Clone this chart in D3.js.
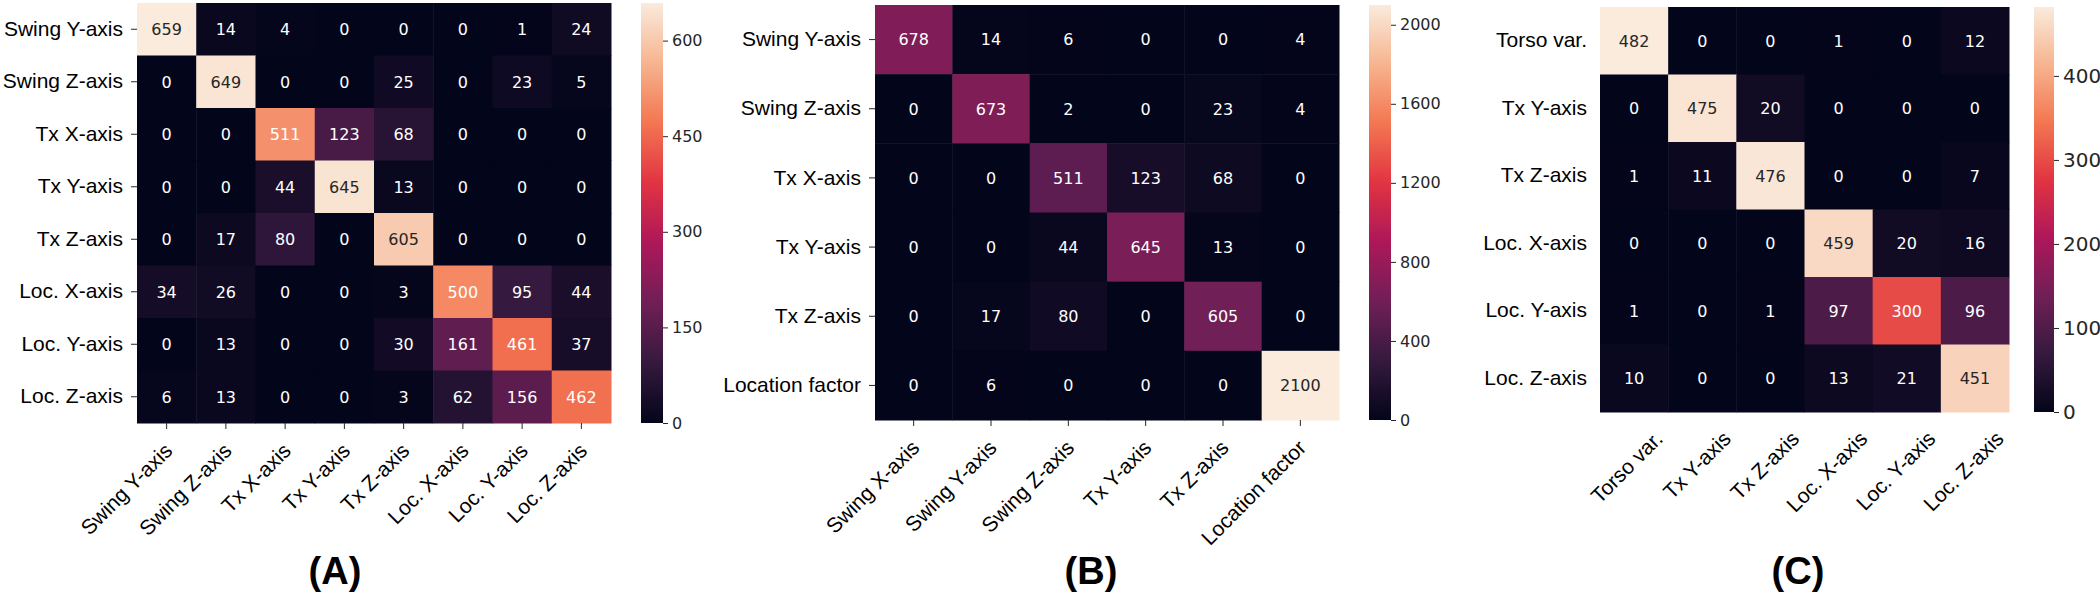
<!DOCTYPE html>
<html>
<head>
<meta charset="utf-8">
<script src="https://cdn.jsdelivr.net/npm/d3@7"></script>
<style>
  html, body { margin: 0; padding: 0; background: #ffffff; }
  svg { display: block; }
</style>
</head>
<body>
<svg id="chart" width="2100" height="594"></svg>
<script>
// ---------------- DATA ----------------
const labelsA = ["Swing Y-axis", "Swing Z-axis", "Tx X-axis", "Tx Y-axis", "Tx Z-axis", "Loc. X-axis", "Loc. Y-axis", "Loc. Z-axis"];
const valuesA = [
  [659, 14, 4, 0, 0, 0, 1, 24],
  [0, 649, 0, 0, 25, 0, 23, 5],
  [0, 0, 511, 123, 68, 0, 0, 0],
  [0, 0, 44, 645, 13, 0, 0, 0],
  [0, 17, 80, 0, 605, 0, 0, 0],
  [34, 26, 0, 0, 3, 500, 95, 44],
  [0, 13, 0, 0, 30, 161, 461, 37],
  [6, 13, 0, 0, 3, 62, 156, 462]
];
const ticksA = [0, 150, 300, 450, 600];

const rowsB = ["Swing Y-axis", "Swing Z-axis", "Tx X-axis", "Tx Y-axis", "Tx Z-axis", "Location factor"];
const colsB = ["Swing X-axis", "Swing Y-axis", "Swing Z-axis", "Tx Y-axis", "Tx Z-axis", "Location factor"];
const valuesB = [
  [678, 14, 6, 0, 0, 4],
  [0, 673, 2, 0, 23, 4],
  [0, 0, 511, 123, 68, 0],
  [0, 0, 44, 645, 13, 0],
  [0, 17, 80, 0, 605, 0],
  [0, 6, 0, 0, 0, 2100]
];
const ticksB = [0, 400, 800, 1200, 1600, 2000];

const labelsC = ["Torso var.", "Tx Y-axis", "Tx Z-axis", "Loc. X-axis", "Loc. Y-axis", "Loc. Z-axis"];
const valuesC = [
  [482, 0, 0, 1, 0, 12],
  [0, 475, 20, 0, 0, 0],
  [1, 11, 476, 0, 0, 7],
  [0, 0, 0, 459, 20, 16],
  [1, 0, 1, 97, 300, 96],
  [10, 0, 0, 13, 21, 451]
];
const ticksC = [0, 100, 200, 300, 400];

const panelLetters = ["(A)", "(B)", "(C)"];

// seaborn "rocket" colormap (approximate stops)
const rocketPos = [0, 0.143, 0.286, 0.429, 0.571, 0.714, 0.857, 1];
const rocketCol = ["#03051a", "#35193e", "#701f57", "#ad1759", "#e13342", "#f37651", "#f6b48f", "#faebdd"];

// ---------------- HELPERS ----------------
const rocket = d3.scaleLinear().domain(rocketPos).range(rocketCol).interpolate(d3.interpolateRgb).clamp(true);

function relLum(c) {
  const rgb = d3.rgb(c);
  const f = v => { v = v / 255; return v <= 0.03928 ? v / 12.92 : Math.pow((v + 0.055) / 1.055, 2.4); };
  return 0.2126 * f(rgb.r) + 0.7152 * f(rgb.g) + 0.0722 * f(rgb.b);
}

const svg = d3.select("#chart");
const defs = svg.append("defs");
const LABEL_FONT = "'Liberation Sans', Arial, Helvetica, sans-serif";
const NUM_FONT = "'DejaVu Sans', sans-serif";

function drawPanel(cfg) {
  const { id, rows, cols, values, ticks, vmax, x0, x1, y0, y1, cb, showTicks, cbFont, letter, letterX, xlabShift } = cfg;
  const g = svg.append("g").attr("class", "panel-" + id);

  const x = d3.scaleBand().domain(d3.range(cols.length)).range([x0, x1]).padding(0);
  const y = d3.scaleBand().domain(d3.range(rows.length)).range([y0, y1]).padding(0);
  const norm = d3.scaleLinear().domain([0, vmax]).range([0, 1]);

  const cells = [];
  values.forEach((row, i) => row.forEach((v, j) => cells.push({ i, j, v })));

  g.selectAll("rect.cell").data(cells).enter().append("rect")
    .attr("class", "cell")
    .attr("x", d => x(d.j))
    .attr("y", d => y(d.i))
    .attr("width", x.bandwidth() + 0.5)
    .attr("height", y.bandwidth() + 0.5)
    .attr("fill", d => rocket(norm(d.v)));

  g.selectAll("text.annot").data(cells).enter().append("text")
    .attr("class", "annot")
    .attr("x", d => x(d.j) + x.bandwidth() / 2)
    .attr("y", d => y(d.i) + y.bandwidth() / 2)
    .attr("dy", "0.36em")
    .attr("text-anchor", "middle")
    .attr("font-family", NUM_FONT)
    .attr("font-size", 16)
    .attr("fill", d => relLum(rocket(norm(d.v))) > 0.408 ? "#262626" : "#ffffff")
    .text(d => d.v);

  // Y axis (row labels)
  const tickLen = showTicks ? 6 : 0;
  const yAxis = d3.axisLeft(y).tickSize(tickLen).tickPadding(showTicks ? 8 : 13).tickFormat(i => rows[i]);
  const gy = g.append("g").attr("transform", `translate(${x0},0)`).call(yAxis);
  gy.select(".domain").remove();
  gy.selectAll("line").attr("stroke", "#262626");
  gy.selectAll("text").attr("font-family", LABEL_FONT).attr("font-size", 21).attr("fill", "#000");

  // X axis (column labels)
  const xAxis = d3.axisBottom(x).tickSize(tickLen).tickFormat(i => cols[i]);
  const gx = g.append("g").attr("transform", `translate(0,${y1})`).call(xAxis);
  gx.select(".domain").remove();
  gx.selectAll("line").attr("stroke", "#262626");
  gx.selectAll("text")
    .attr("font-family", LABEL_FONT).attr("font-size", 21).attr("fill", "#000")
    .attr("text-anchor", "end")
    .attr("y", 0).attr("dy", 0)
    .attr("transform", `translate(${xlabShift[0]},${xlabShift[1]}) rotate(-45)`);

  // Colorbar
  const gradId = "grad-" + id;
  const grad = defs.append("linearGradient").attr("id", gradId)
    .attr("x1", "0").attr("y1", "1").attr("x2", "0").attr("y2", "0");
  d3.range(0, 1.0001, 0.02).forEach(t => {
    grad.append("stop").attr("offset", t).attr("stop-color", rocket(t));
  });
  g.append("rect").attr("x", cb.x).attr("y", cb.y0).attr("width", cb.w).attr("height", cb.y1 - cb.y0)
    .attr("fill", `url(#${gradId})`);
  const cbScale = d3.scaleLinear().domain([0, vmax]).range([cb.y1, cb.y0]);
  const cbAxis = d3.axisRight(cbScale).tickValues(ticks).tickFormat(d3.format("d")).tickSize(5).tickPadding(4);
  const gc = g.append("g").attr("transform", `translate(${cb.x + cb.w},0)`).call(cbAxis);
  gc.select(".domain").remove();
  gc.selectAll("line").attr("stroke", "#262626");
  gc.selectAll("text").attr("font-family", NUM_FONT).attr("font-size", cbFont).attr("fill", "#262626");

  // Panel letter
  svg.append("text").attr("x", letterX).attr("y", 584)
    .attr("text-anchor", "middle")
    .attr("font-family", LABEL_FONT).attr("font-weight", "bold").attr("font-size", 38)
    .attr("fill", "#000")
    .text(letter);
}

drawPanel({ id: "A", rows: labelsA, cols: labelsA, values: valuesA, ticks: ticksA, vmax: 659,
  x0: 137, x1: 611, y0: 3, y1: 423, cb: { x: 641, w: 22, y0: 3, y1: 423 }, showTicks: true, cbFont: 16,
  letter: panelLetters[0], letterX: 335, xlabShift: [7, 29] });

drawPanel({ id: "B", rows: rowsB, cols: colsB, values: valuesB, ticks: ticksB, vmax: 2100,
  x0: 875, x1: 1339, y0: 5, y1: 420, cb: { x: 1369, w: 22, y0: 5, y1: 420 }, showTicks: true, cbFont: 16,
  letter: panelLetters[1], letterX: 1091, xlabShift: [7, 29] });

drawPanel({ id: "C", rows: labelsC, cols: labelsC, values: valuesC, ticks: ticksC, vmax: 482,
  x0: 1600, x1: 2009, y0: 7, y1: 412, cb: { x: 2034, w: 20, y0: 7, y1: 412 }, showTicks: false, cbFont: 20,
  letter: panelLetters[2], letterX: 1798, xlabShift: [30, 28] });
</script>
</body>
</html>
